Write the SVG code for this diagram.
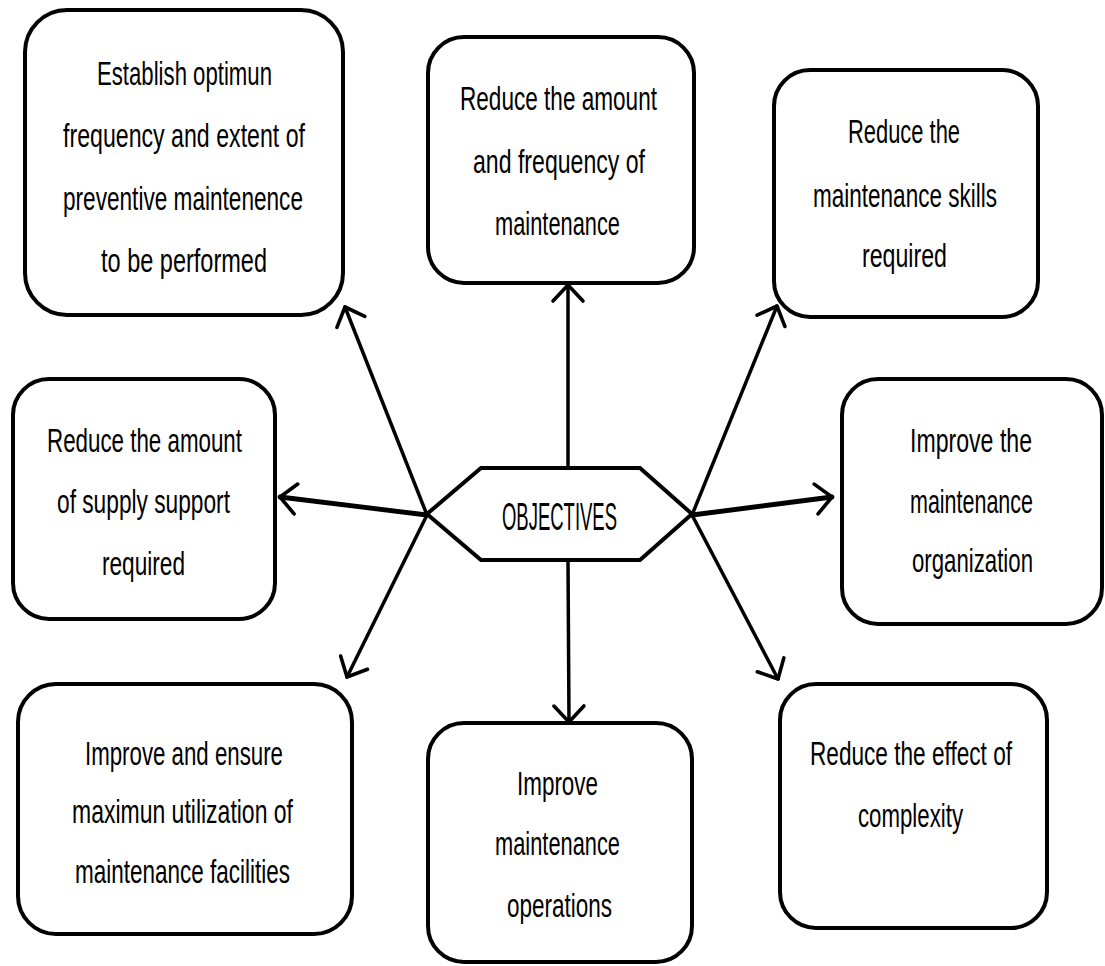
<svg xmlns="http://www.w3.org/2000/svg" width="1105" height="966" viewBox="0 0 1105 966">
<style>
.box{fill:#fff;stroke:#000;stroke-width:4}
.t{font-family:"Liberation Sans Narrow","Liberation Sans",Arial,sans-serif;font-size:33px;fill:#000}
.c{fill:none;stroke:#000;stroke-width:3.5;stroke-linecap:round}
.ct{stroke-width:4.8}
</style>
<defs>
<marker id="ah" markerUnits="userSpaceOnUse" markerWidth="40" markerHeight="40" refX="20" refY="20" orient="auto" overflow="visible">
<path d="M4,5 L20,20 L4,35" fill="none" stroke="#000" stroke-width="3.6" stroke-linecap="round" stroke-linejoin="round"/>
</marker>
</defs>
<rect width="1105" height="966" fill="#fff"/>
<g id="connectors">
<line class="c" x1="568" y1="468" x2="568" y2="285" marker-end="url(#ah)"/>
<line class="c" x1="568" y1="560" x2="569" y2="722" marker-end="url(#ah)"/>
<line class="c" x1="427" y1="515" x2="345" y2="307" marker-end="url(#ah)"/>
<line class="c ct" x1="427" y1="515" x2="280" y2="497" marker-end="url(#ah)"/>
<line class="c" x1="427" y1="515" x2="347" y2="677" marker-end="url(#ah)"/>
<line class="c" x1="692" y1="515" x2="777" y2="306" marker-end="url(#ah)"/>
<line class="c ct" x1="692" y1="515" x2="832" y2="497" marker-end="url(#ah)"/>
<line class="c" x1="692" y1="515" x2="778" y2="679" marker-end="url(#ah)"/>
</g>
<g id="objectives">
<polygon class="box" stroke-width="5" points="427,514 481,468 640,468 692,514 640,560 481,560"/>
<text class="t" style="font-size:39px" x="502" y="530" textLength="115" lengthAdjust="spacingAndGlyphs">OBJECTIVES</text>
</g>
<g id="n1">
<rect class="box" x="25" y="10" width="318" height="305" rx="42"/>
<text class="t" x="97" y="85" textLength="175" lengthAdjust="spacingAndGlyphs">Establish optimun</text>
<text class="t" x="63" y="147" textLength="242" lengthAdjust="spacingAndGlyphs">frequency and extent of</text>
<text class="t" x="63" y="210" textLength="240" lengthAdjust="spacingAndGlyphs">preventive maintenence</text>
<text class="t" x="101" y="272" textLength="166" lengthAdjust="spacingAndGlyphs">to be performed</text>
</g>
<g id="n2">
<rect class="box" x="428" y="37" width="266" height="246" rx="36"/>
<text class="t" x="460" y="110" textLength="197" lengthAdjust="spacingAndGlyphs">Reduce the amount</text>
<text class="t" x="473" y="173" textLength="172" lengthAdjust="spacingAndGlyphs">and frequency of</text>
<text class="t" x="495" y="235" textLength="125" lengthAdjust="spacingAndGlyphs">maintenance</text>
</g>
<g id="n3">
<rect class="box" x="774" y="70" width="264" height="247" rx="36"/>
<text class="t" x="848" y="143" textLength="112" lengthAdjust="spacingAndGlyphs">Reduce the</text>
<text class="t" x="813" y="207" textLength="184" lengthAdjust="spacingAndGlyphs">maintenance skills</text>
<text class="t" x="862" y="267" textLength="85" lengthAdjust="spacingAndGlyphs">required</text>
</g>
<g id="n4">
<rect class="box" x="13" y="379" width="262" height="240" rx="36"/>
<text class="t" x="47" y="452" textLength="195" lengthAdjust="spacingAndGlyphs">Reduce the amount</text>
<text class="t" x="57" y="513" textLength="173" lengthAdjust="spacingAndGlyphs">of supply support</text>
<text class="t" x="102" y="575" textLength="83" lengthAdjust="spacingAndGlyphs">required</text>
</g>
<g id="n5">
<rect class="box" x="842" y="379" width="260" height="245" rx="36"/>
<text class="t" x="910" y="452" textLength="122" lengthAdjust="spacingAndGlyphs">Improve the</text>
<text class="t" x="910" y="513" textLength="123" lengthAdjust="spacingAndGlyphs">maintenance</text>
<text class="t" x="912" y="572" textLength="121" lengthAdjust="spacingAndGlyphs">organization</text>
</g>
<g id="n6">
<rect class="box" x="18" y="684" width="334" height="250" rx="38"/>
<text class="t" x="85" y="765" textLength="198" lengthAdjust="spacingAndGlyphs">Improve and ensure</text>
<text class="t" x="72" y="823" textLength="221" lengthAdjust="spacingAndGlyphs">maximun utilization of</text>
<text class="t" x="75" y="883" textLength="215" lengthAdjust="spacingAndGlyphs">maintenance facilities</text>
</g>
<g id="n7">
<rect class="box" x="428" y="723" width="264" height="239" rx="36"/>
<text class="t" x="517" y="795" textLength="81" lengthAdjust="spacingAndGlyphs">Improve</text>
<text class="t" x="495" y="855" textLength="125" lengthAdjust="spacingAndGlyphs">maintenance</text>
<text class="t" x="507" y="917" textLength="105" lengthAdjust="spacingAndGlyphs">operations</text>
</g>
<g id="n8">
<rect class="box" x="780" y="684" width="267" height="244" rx="36"/>
<text class="t" x="810" y="765" textLength="202" lengthAdjust="spacingAndGlyphs">Reduce the effect of</text>
<text class="t" x="858" y="827" textLength="105" lengthAdjust="spacingAndGlyphs">complexity</text>
</g>
</svg>
